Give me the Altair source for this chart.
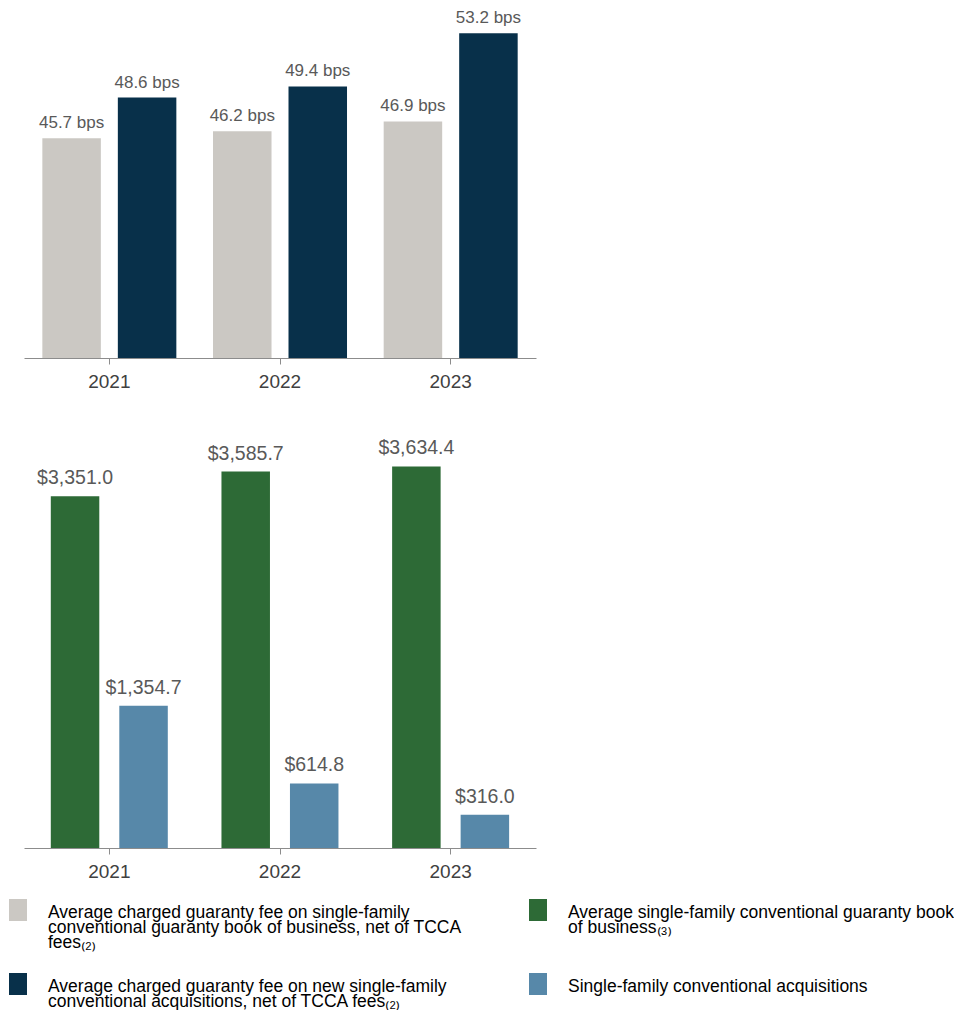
import altair as alt
import pandas as pd

# ---------------- data ----------------
years = ["2021", "2022", "2023"]

fee_series = [
    "Average charged guaranty fee on single-family conventional guaranty book of business, net of TCCA fees",
    "Average charged guaranty fee on new single-family conventional acquisitions, net of TCCA fees",
]
fee_book = [45.7, 46.2, 46.9]
fee_new = [48.6, 49.4, 53.2]

vol_series = [
    "Average single-family conventional guaranty book of business",
    "Single-family conventional acquisitions",
]
book_vals = [3351.0, 3585.7, 3634.4]
acq_vals = [1354.7, 614.8, 316.0]

legend_series = [fee_series[0], vol_series[0], fee_series[1], vol_series[1]]
legend_lines = [
    ["Average charged guaranty fee on single-family",
     "conventional guaranty book of business, net of TCCA",
     "fees\u208d\u2082\u208e"],
    ["Average single-family conventional guaranty book",
     "of business\u208d\u2083\u208e"],
    ["Average charged guaranty fee on new single-family",
     "conventional acquisitions, net of TCCA fees\u208d\u2082\u208e"],
    ["Single-family conventional acquisitions"],
]
legend_col = [0, 1, 0, 1]
legend_row = [0, 0, 1, 1]

all_series = fee_series + vol_series
all_colors = ["#CBC8C3", "#08304A", "#2D6A36", "#5788A9"]

# ---------------- tables ----------------
fee_df = pd.DataFrame({
    "year": years * 2,
    "series": [fee_series[0]] * 3 + [fee_series[1]] * 3,
    "value": fee_book + fee_new,
})
vol_df = pd.DataFrame({
    "year": years * 2,
    "series": [vol_series[0]] * 3 + [vol_series[1]] * 3,
    "value": book_vals + acq_vals,
})

ROW_STEP = 74
LINE_STEP = 15
leg_sw = pd.DataFrame({
    "series": legend_series,
    "col": legend_col,
    "pos": [r * ROW_STEP for r in legend_row],
})
rows = []
for s, c, r, lines in zip(legend_series, legend_col, legend_row, legend_lines):
    for i, t in enumerate(lines):
        rows.append({"series": s, "col": c, "pos": r * ROW_STEP + i * LINE_STEP, "text": t})
leg_tx = pd.DataFrame(rows)

color_scale = alt.Scale(domain=all_series, range=all_colors)

xaxis = alt.Axis(title=None, labelAngle=0, labelFontSize=19, labelColor="#404040",
                 labelPadding=8, tickSize=6, domainColor="#8c8c8c", tickColor="#8c8c8c",
                 grid=False, labelFont="Liberation Sans")

# ---------------- top chart ----------------
FEE_BASE = 30
top_base = alt.Chart(fee_df).encode(
    x=alt.X("year:N", sort=years, axis=xaxis,
            scale=alt.Scale(paddingInner=0.215, paddingOuter=0.1075)),
    xOffset=alt.XOffset("series:N", sort=fee_series,
                        scale=alt.Scale(domain=fee_series, range=[0, 134],
                                        paddingInner=0.225, paddingOuter=0)),
    y=alt.Y("value:Q", axis=None,
            scale=alt.Scale(domain=[FEE_BASE, 55], zero=False, nice=False)),
)
top_bars = top_base.mark_bar().encode(
    y2=alt.Y2(datum=FEE_BASE),
    color=alt.Color("series:N", scale=color_scale, legend=None),
)
top_text = top_base.mark_text(dy=-10, baseline="alphabetic", fontSize=17,
                              color="#595959", font="Liberation Sans").encode(
    text="label:N"
).transform_calculate(label="format(datum.value, '.1f') + ' bps'")
top = alt.layer(top_bars, top_text).properties(width=512, height=350)

# ---------------- bottom chart ----------------
bot_base = alt.Chart(vol_df).encode(
    x=alt.X("year:N", sort=years, axis=xaxis,
            scale=alt.Scale(paddingInner=0.314, paddingOuter=0.157)),
    xOffset=alt.XOffset("series:N", sort=vol_series,
                        scale=alt.Scale(domain=vol_series, range=[0, 117],
                                        paddingInner=0.292, paddingOuter=0)),
    y=alt.Y("value:Q", axis=None, scale=alt.Scale(domain=[0, 4000], nice=False)),
)
bot_bars = bot_base.mark_bar().encode(
    color=alt.Color("series:N", scale=color_scale, legend=None),
)
bot_text = bot_base.mark_text(dy=-12, baseline="alphabetic", fontSize=19.5,
                              color="#595959", font="Liberation Sans").encode(
    text="label:N"
).transform_calculate(label="'$' + format(datum.value, ',.1f')")
bottom = alt.layer(bot_bars, bot_text).properties(width=512, height=420)

# ---------------- legend ----------------
leg_x = alt.Scale(domain=[0, 1], range=[-6, 514])
leg_y = alt.Scale(domain=[0, 100], range=[-8, 92])
sw = alt.Chart(leg_sw).mark_point(
    shape="M-0.82,-1H0.82V1H-0.82Z", filled=True, opacity=1, size=484, strokeWidth=0
).encode(
    x=alt.X("col:Q", scale=leg_x, axis=None),
    y=alt.Y("pos:Q", scale=leg_y, axis=None),
    color=alt.Color("series:N", scale=color_scale, legend=None),
)
tx = alt.Chart(leg_tx).mark_text(
    align="left", baseline="middle", dx=30, dy=2.5, fontSize=17.5, color="#000000",
    font="Liberation Sans"
).encode(
    x=alt.X("col:Q", scale=leg_x, axis=None),
    y=alt.Y("pos:Q", scale=leg_y, axis=None),
    text="text:N",
)
legend = alt.layer(sw, tx).properties(width=512, height=80)

chart = alt.vconcat(top, bottom, legend, spacing=70, bounds="flush").resolve_scale(
    x="independent", xOffset="independent", y="independent"
).properties(padding=0).configure(
    font="Liberation Sans"
).configure_view(stroke=None)

chart.save("out.html", embed_options={"renderer": "svg", "actions": False})
